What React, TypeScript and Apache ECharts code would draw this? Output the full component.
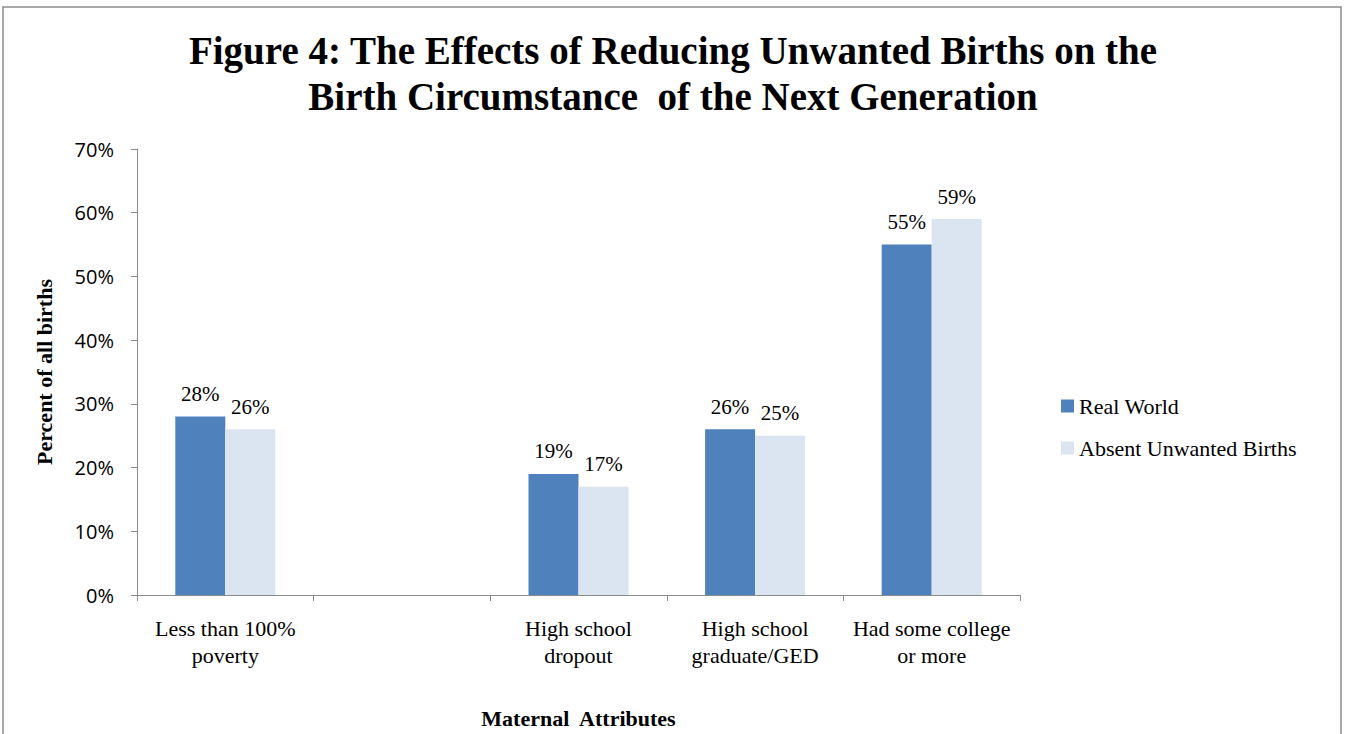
import React, { useEffect, useRef } from "react";
import * as echarts from "echarts";

const categories = [
  "Less than 100%\npoverty",
  "",
  "High school\ndropout",
  "High school\ngraduate/GED",
  "Had some college\nor more",
];
const realWorld: (number | null)[] = [28, null, 19, 26, 55];
const absentUnwanted: (number | null)[] = [26, null, 17, 25, 59];
const seriesNames = ["Real World", "Absent Unwanted Births"];
const titleText = "Figure 4: The Effects of Reducing Unwanted Births on the\nBirth Circumstance  of the Next Generation";

export default function App() {
  const ref = useRef<HTMLDivElement>(null);
  useEffect(() => {
    document.body.style.margin = "0";
    if (!ref.current) return;
    const chart = echarts.init(ref.current, null, { renderer: "svg" });
    const serif = "'Liberation Serif', 'Times New Roman', serif";
    const sans = "'Open Sans', 'Noto Sans', sans-serif";
    const labelCfg = {
      show: true,
      position: "top" as const,
      distance: 12,
      formatter: (p: any) => `${p.value}%`,
      fontFamily: serif,
      fontSize: 21,
      color: "#000",
    };
    chart.setOption({
      animation: false,
      backgroundColor: "#fff",
      title: {
        text: titleText,
        left: "center",
        top: 22,
        textStyle: {
          fontFamily: serif,
          fontWeight: "bold",
          fontSize: 39,
          lineHeight: 46,
          color: "#000",
        },
      },
      graphic: [
        {
          type: "rect",
          shape: { x: 3, y: 7, width: 1338, height: 740 },
          style: { fill: "none", stroke: "#8c8c8c", lineWidth: 1.5 },
          silent: true,
        },
      ],
      legend: {
        orient: "vertical",
        left: 1056,
        top: 390,
        itemWidth: 13,
        itemHeight: 13,
        itemGap: 20,
        icon: "rect",
        data: seriesNames,
        textStyle: { fontFamily: serif, fontSize: 22, color: "#000", padding: [0, 0, 0, 0] },
      },
      grid: { left: 137, width: 883, top: 149, height: 448 },
      xAxis: {
        type: "category",
        data: categories,
        name: "Maternal  Attributes",
        nameLocation: "middle",
        nameGap: 112,
        nameTextStyle: { fontFamily: serif, fontWeight: "bold", fontSize: 22, color: "#000" },
        axisLine: { lineStyle: { color: "#8c8c8c", width: 1 } },
        axisTick: { show: true, length: 6, alignWithLabel: false, lineStyle: { color: "#8c8c8c" } },
        axisLabel: {
          interval: 0,
          margin: 20,
          fontFamily: serif,
          fontSize: 22,
          lineHeight: 27,
          color: "#000",
        },
      },
      yAxis: {
        type: "value",
        min: 0,
        max: 70,
        interval: 10,
        name: "Percent of all births",
        nameLocation: "middle",
        nameGap: 82,
        nameRotate: 90,
        nameTextStyle: { fontFamily: serif, fontWeight: "bold", fontSize: 22, color: "#000" },
        axisLine: { show: true, lineStyle: { color: "#8c8c8c", width: 1 } },
        axisTick: { show: true, length: 6, lineStyle: { color: "#8c8c8c" } },
        splitLine: { show: false },
        axisLabel: {
          formatter: "{value}%",
          margin: 23,
          fontFamily: sans,
          fontSize: 20,
          color: "#000",
        },
      },
      series: [
        {
          name: seriesNames[0],
          type: "bar",
          data: realWorld,
          barWidth: 50,
          barGap: "0%",
          itemStyle: { color: "#4F81BD" },
          label: labelCfg,
        },
        {
          name: seriesNames[1],
          type: "bar",
          data: absentUnwanted,
          barWidth: 50,
          barGap: "0%",
          itemStyle: { color: "#DBE5F1" },
          label: labelCfg,
        },
      ],
    });
    return () => chart.dispose();
  }, []);
  return <div ref={ref} style={{ width: 1346, height: 734 }} />;
}
